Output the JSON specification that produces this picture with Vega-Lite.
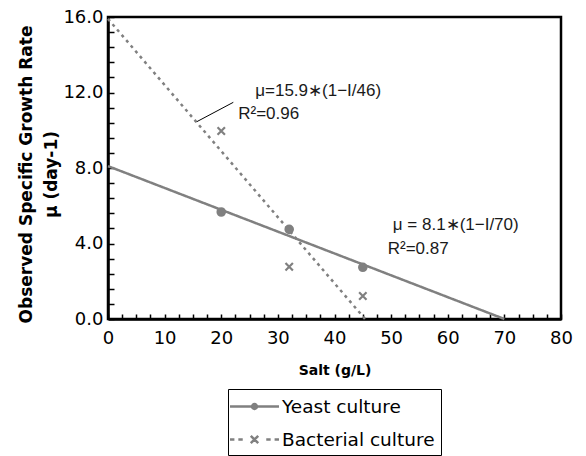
{
  "$schema": "https://vega.github.io/schema/vega-lite/v6.json",
  "width": 453,
  "height": 302,
  "autosize": {"type": "none"},
  "padding": {"left": 108, "top": 17, "right": 25, "bottom": 137},
  "background": "white",
  "config": {
    "view": {"stroke": "black", "strokeWidth": 2.5},
    "axis": {"grid": false, "domainColor": "black", "domainWidth": 2.5, "tickColor": "black", "tickWidth": 1.5, "labelColor": "black", "labelFont": "DejaVu Sans", "labelFontSize": 18, "labelOverlap": false, "labelFlush": false, "titleColor": "black", "titleFont": "DejaVu Sans", "titleFontWeight": "bold"}
  },
  "datasets": {
    "fit": [
      {"series": "Yeast culture", "salt": 0, "mu": 8.1},
      {"series": "Yeast culture", "salt": 70, "mu": 0},
      {"series": "Bacterial culture", "salt": 0, "mu": 15.9},
      {"series": "Bacterial culture", "salt": 45.4, "mu": 0}
    ],
    "obs": [
      {"series": "Yeast culture", "salt": 20, "mu": 5.67},
      {"series": "Yeast culture", "salt": 32, "mu": 4.75},
      {"series": "Yeast culture", "salt": 45, "mu": 2.74},
      {"series": "Bacterial culture", "salt": 20, "mu": 9.96},
      {"series": "Bacterial culture", "salt": 32, "mu": 2.77},
      {"series": "Bacterial culture", "salt": 45, "mu": 1.22}
    ],
    "leader": [
      {"x1": 15.66, "y1": 10.45, "x2": 22.13, "y2": 11.48}
    ],
    "notes": [
      {"salt": 26.0, "mu": 12.08, "text": "μ=15.9∗(1−I/46)"},
      {"salt": 23.0, "mu": 10.86, "text": "R²=0.96"},
      {"salt": 50.3, "mu": 4.98, "text": "μ = 8.1∗(1−I/70)"},
      {"salt": 49.4, "mu": 3.71, "text": "R²=0.87"}
    ]
  },
  "resolve": {"scale": {"shape": "independent"}, "legend": {"shape": "independent"}},
  "layer": [
    {
      "data": {"name": "fit"},
      "mark": {"type": "line", "strokeWidth": 2.5, "strokeCap": "butt", "color": "#808080"},
      "encoding": {
        "x": {
          "field": "salt", "type": "quantitative",
          "scale": {"domain": [0, 80], "nice": false, "zero": false},
          "axis": {
            "title": "Salt (g/L)",
            "values": [0, 2.5, 5, 7.5, 10, 12.5, 15, 17.5, 20, 22.5, 25, 27.5, 30, 32.5, 35, 37.5, 40, 42.5, 45, 47.5, 50, 52.5, 55, 57.5, 60, 62.5, 65, 67.5, 70, 72.5, 75, 77.5, 80],
            "tickCount": 200,
            "labelExpr": "datum.value % 10 === 0 ? format(datum.value, 'd') : ''",
            "labelOverlap": false,
            "tickSize": -5,
            "labelPadding": 15,
            "titleFontSize": 14,
            "titleY": 51,
            "titleBaseline": "middle"
          }
        },
        "y": {
          "field": "mu", "type": "quantitative",
          "scale": {"domain": [0, 16], "nice": false},
          "axis": {
            "title": ["Observed Specific Growth Rate", "μ (day-1)"],
            "values": [0, 0.8, 1.6, 2.4, 3.2, 4, 4.8, 5.6, 6.4, 7.2, 8, 8.8, 9.6, 10.4, 11.2, 12, 12.8, 13.6, 14.4, 15.2, 16],
            "tickCount": 200,
            "labelExpr": "datum.value % 4 === 0 ? format(datum.value, '.1f') : ''",
            "labelOverlap": false,
            "tickSize": -6,
            "labelPadding": 11,
            "titleFontSize": 17,
            "titleLineHeight": 25,
            "titleX": -73,
            "titleY": 157,
            "titleAlign": "center",
            "titleBaseline": "bottom"
          }
        },
        "detail": {"field": "series", "type": "nominal"},
        "strokeDash": {
          "field": "series", "type": "nominal",
          "scale": {"domain": ["Yeast culture", "Bacterial culture"], "range": [[1, 0], [3, 4]]},
          "legend": null
        }
      }
    },
    {
      "data": {"name": "obs"},
      "mark": {"type": "point", "filled": true, "opacity": 1, "color": "#808080", "stroke": "#808080", "strokeWidth": 2.2, "size": 55},
      "encoding": {
        "x": {"field": "salt", "type": "quantitative"},
        "y": {"field": "mu", "type": "quantitative"},
        "shape": {
          "field": "series", "type": "nominal",
          "scale": {"domain": ["Yeast culture", "Bacterial culture"], "range": ["circle", "M-1,-1L1,1M-1,1L1,-1"]},
          "legend": null
        }
      }
    },
    {
      "data": {"name": "obs"},
      "mark": {"type": "point", "filled": false, "opacity": 0, "color": "#808080", "strokeWidth": 2.5},
      "encoding": {
        "x": {"field": "salt", "type": "quantitative"},
        "y": {"field": "mu", "type": "quantitative"},
        "shape": {
          "field": "series", "type": "nominal",
          "scale": {"domain": ["Yeast culture", "Bacterial culture"], "range": ["M-2.5,0H2.5M-0.25,0A0.25,0.25 0 1,0 0.25,0A0.25,0.25 0 1,0 -0.25,0M-0.12,0A0.12,0.12 0 1,0 0.12,0A0.12,0.12 0 1,0 -0.12,0", "M-2.5,0H-2.05M-1.65,0H-1.2M-0.38,-0.38L0.38,0.38M-0.38,0.38L0.38,-0.38M1.2,0H1.65M2.05,0H2.5"]},
          "legend": {
            "title": null,
            "orient": "none",
            "legendX": 120,
            "legendY": 372,
            "padding": 6,
            "rowPadding": 12,
            "symbolSize": 384,
            "symbolOffset": 9,
            "symbolOpacity": 1,
            "symbolStrokeColor": "#808080",
            "symbolStrokeWidth": 2.5,
            "labelFont": "DejaVu Sans",
            "labelFontSize": 18.5,
            "labelColor": "black",
            "labelOffset": 16,
            "strokeColor": "black"
          }
        }
      }
    },
    {
      "data": {"name": "leader"},
      "mark": {"type": "rule", "color": "black", "strokeWidth": 1},
      "encoding": {
        "x": {"field": "x1", "type": "quantitative"},
        "y": {"field": "y1", "type": "quantitative"},
        "x2": {"field": "x2"},
        "y2": {"field": "y2"}
      }
    },
    {
      "data": {"name": "notes"},
      "mark": {"type": "text", "align": "left", "baseline": "middle", "font": "Liberation Sans", "fontSize": 17, "color": "#1a1a1a"},
      "encoding": {
        "x": {"field": "salt", "type": "quantitative"},
        "y": {"field": "mu", "type": "quantitative"},
        "text": {"field": "text"}
      }
    }
  ]
}
